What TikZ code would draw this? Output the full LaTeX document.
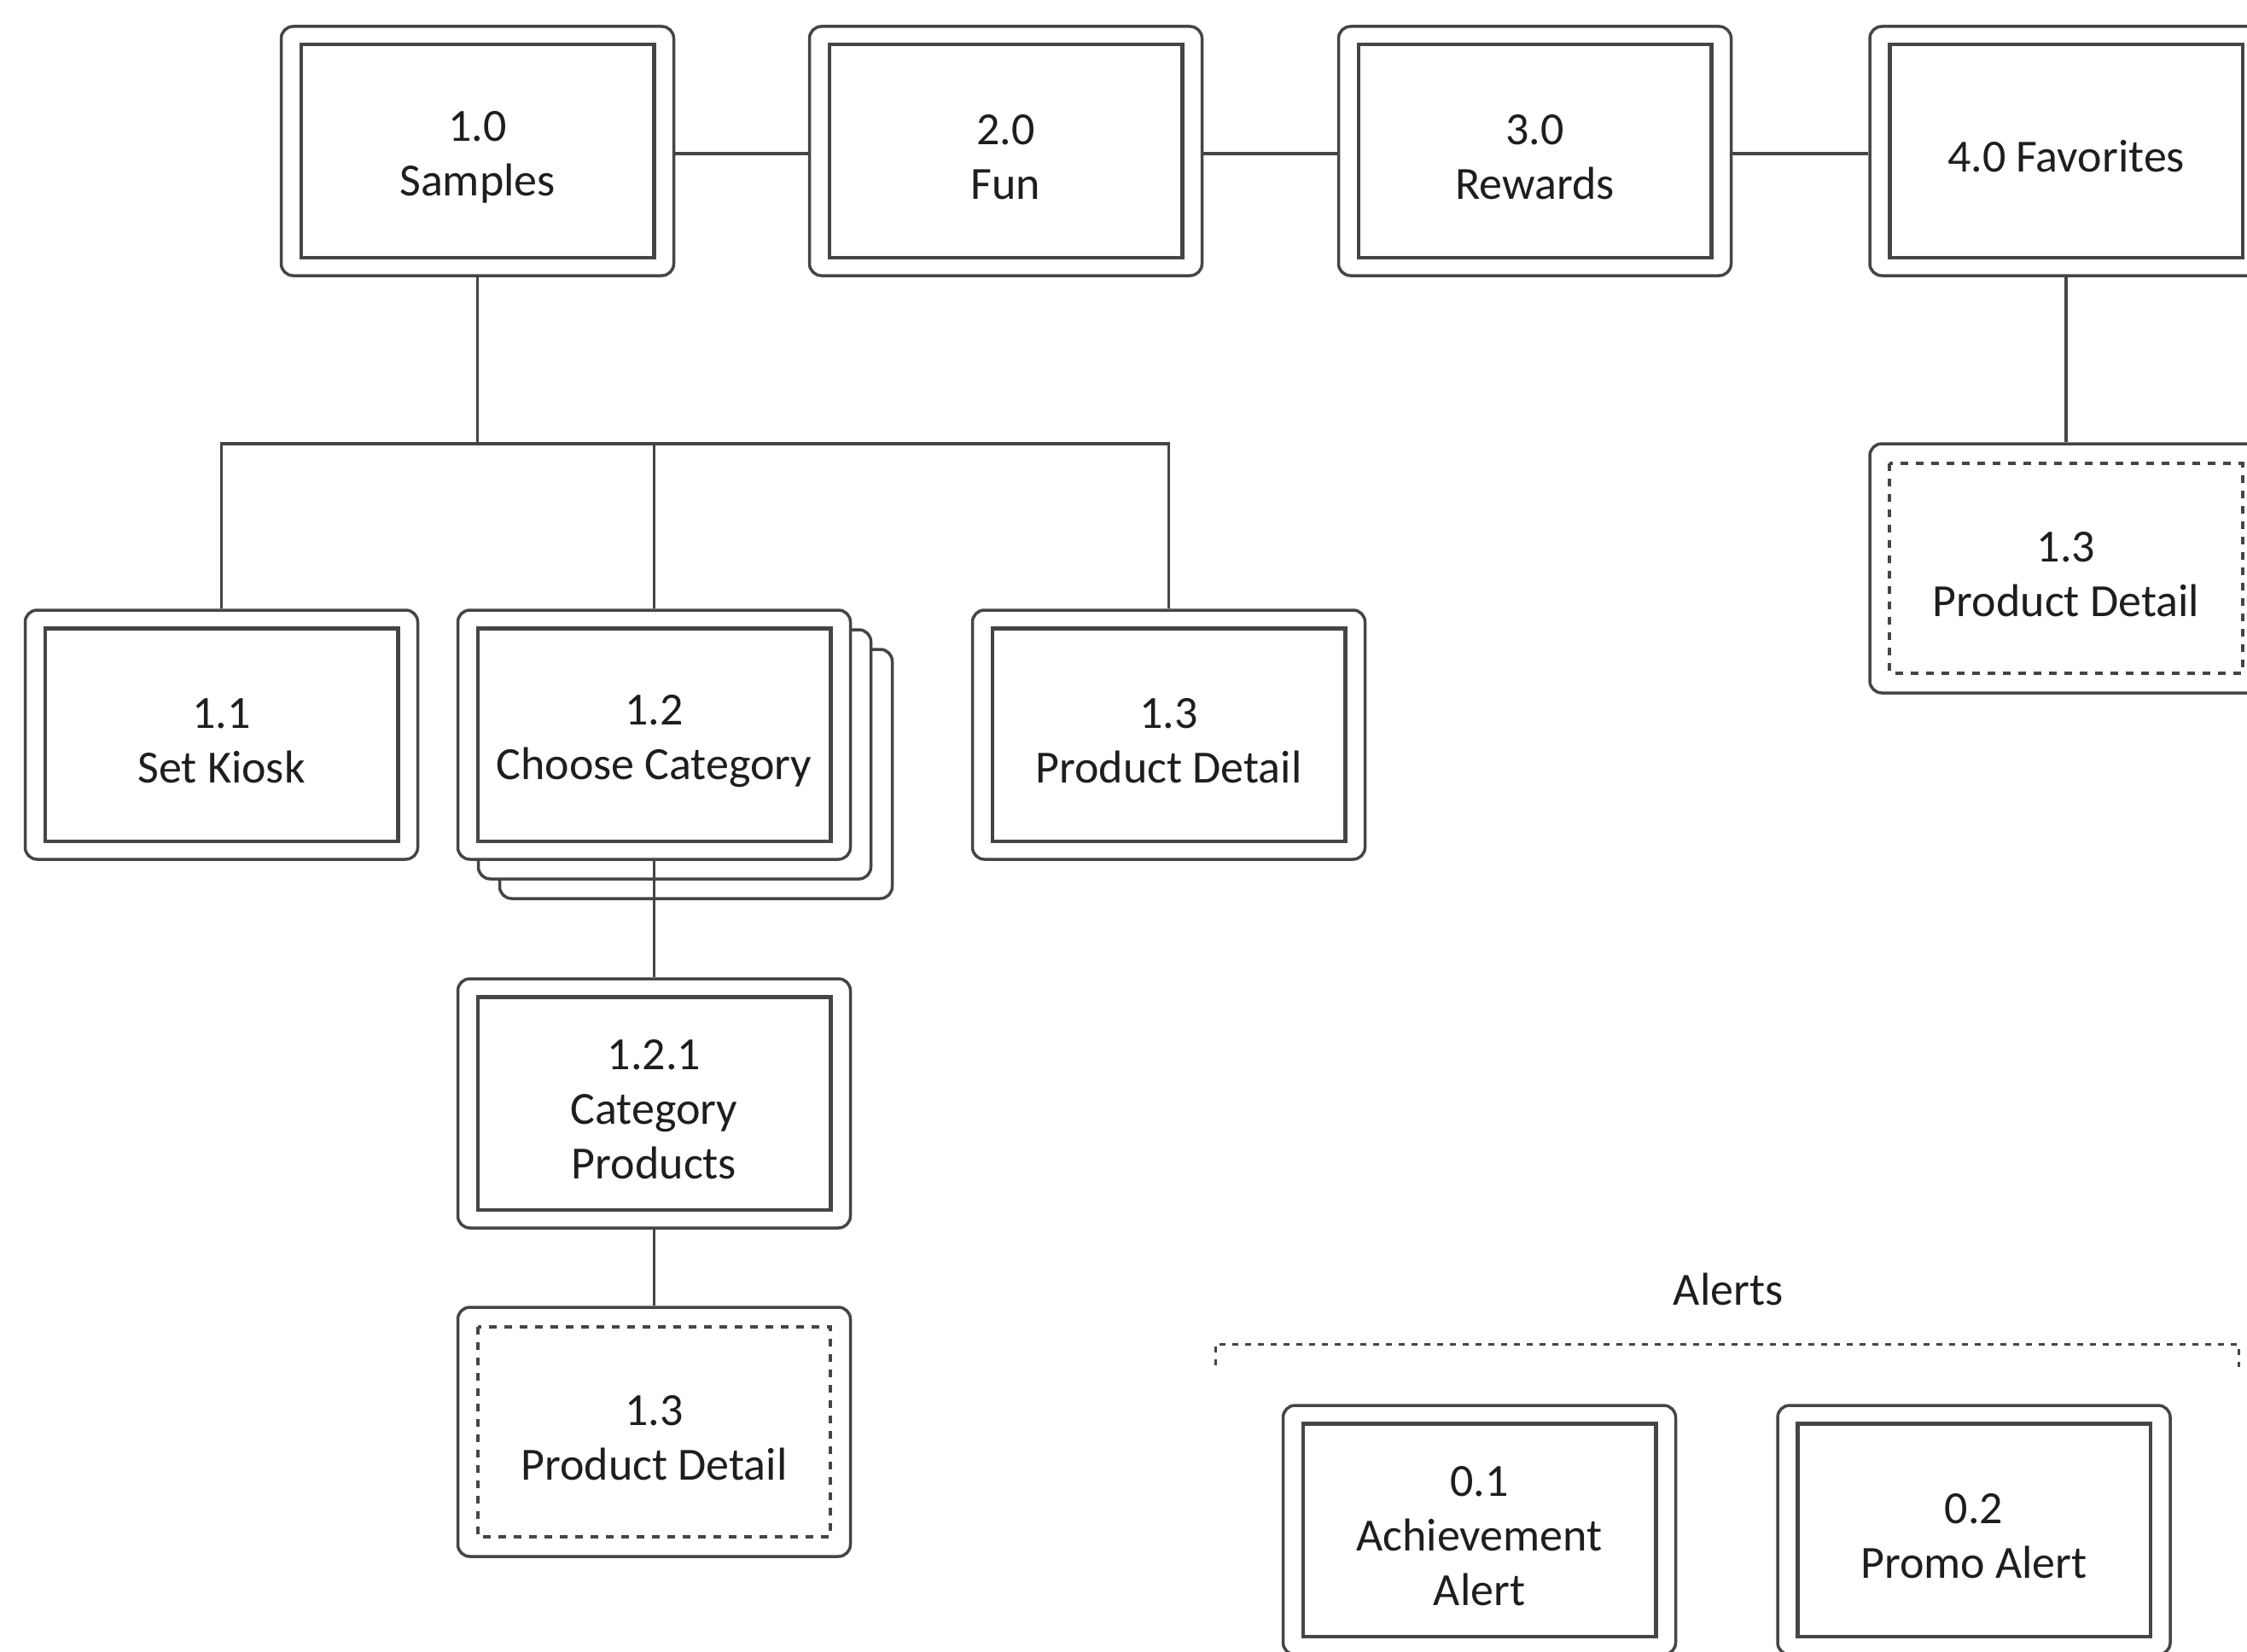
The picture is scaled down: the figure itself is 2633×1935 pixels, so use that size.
\documentclass[tikz,border=0pt]{standalone}
\usepackage{fontspec}
\setmainfont{Carlito}
\definecolor{ln}{HTML}{454545}
\definecolor{tx}{HTML}{1E1E1E}
\newcommand{\myStrut}{\rule{0pt}{50pt}}
\begin{document}
\begin{tikzpicture}[x=1pt,y=-1pt,
  box/.style={draw=ln, line width=3.5pt, fill=white, rounded corners=14pt,
    minimum width=460pt, minimum height=292pt, inner sep=0pt, align=center,
    text=tx, font=\fontsize{54}{64}\selectfont},
  innerbox/.style={draw=ln, line width=4.5pt},
  innerdash/.style={draw=ln, line width=4pt, dash pattern=on 9pt off 9pt},
  conn/.style={draw=ln, line width=3.5pt},
  shadowbox/.style={draw=ln, line width=3.5pt, fill=white, rounded corners=14pt},
  lbl/.style={text=tx, font=\fontsize{54}{64}\selectfont, inner sep=0pt},
  adash/.style={draw=ln, line width=3pt, dash pattern=on 7pt off 8pt}
]
\useasboundingbox (0,0) rectangle (2633,1935);
\clip (0,0) rectangle (2633,1935);
\fill[white] (0,0) rectangle (2633,1935);

% top row
\node[box] (n10) at (559.5,177) {\myStrut 1.0\\Samples};
\node[box] (n20) at (1178.5,177) {\myStrut 2.0\\Fun};
\node[box] (n30) at (1798.5,177) {\myStrut 3.0\\Rewards};
\node[box] (n40) at (2421,177) {\myStrut 4.0 Favorites};

% second row
\node[box] (n11) at (259.5,861) {\myStrut 1.1\\Set Kiosk};
\path[shadowbox] (585.5,761) rectangle (1045.5,1053);
\path[shadowbox] (560.5,738) rectangle (1020.5,1030);
\node[box] (n12) at (766.5,861) {\myStrut 1.2\\Choose Category};
\node[box] (n13) at (1369.5,861) {\myStrut 1.3\\Product Detail};

% lower
\node[box] (n121) at (766.5,1293) {\myStrut 1.2.1\\Category\\Products};
\node[box] (n13b) at (766.5,1678) {\myStrut 1.3\\Product Detail};
\node[box] (n13c) at (2421,666) {\myStrut 1.3\\Product Detail};

% alerts
\node[lbl] (alerts) at (2025,1511) {Alerts};
\node[box] (n01) at (1733.5,1793) {\myStrut 0.1\\Achievement\\Alert};
\node[box] (n02) at (2313,1793) {\myStrut 0.2\\Promo Alert};

% inner frames
\foreach \n in {n10,n20,n30,n40,n11,n12,n13,n121,n01,n02}
  \draw[innerbox] ([shift={(25,23)}]\n.north west) rectangle ([shift={(-25,-23)}]\n.south east);
\foreach \n in {n13b,n13c}
  \draw[innerdash] ([shift={(25,25)}]\n.north west) rectangle ([shift={(-25,-25)}]\n.south east);

% connectors
\draw[conn] ([yshift=-3pt]n10.east) -- ([yshift=-3pt]n20.west);
\draw[conn] ([yshift=-3pt]n20.east) -- ([yshift=-3pt]n30.west);
\draw[conn] ([yshift=-3pt]n30.east) -- ([yshift=-3pt]n40.west);
\coordinate (bus) at (559.5,520);
\draw[conn] (n10.south) -- (bus);
\draw[conn] (n11.north) -- (n11.north |- bus) -- (n13.north |- bus) -- (n13.north);
\draw[conn] (n12.north) -- (n12.north |- bus);
\draw[conn] (n12.south) -- (n121.north);
\draw[conn] (n121.south) -- (n13b.north);
\draw[conn] (n40.south) -- (n13c.north);

% alerts bracket
\coordinate (bl) at (1424,1575);
\coordinate (br) at (2623,1575);
\coordinate (blt) at (1424,1600);
\coordinate (brt) at (2623,1602);
\draw[adash] (blt) -- (bl) -- (br) -- (brt);
\end{tikzpicture}
\end{document}
